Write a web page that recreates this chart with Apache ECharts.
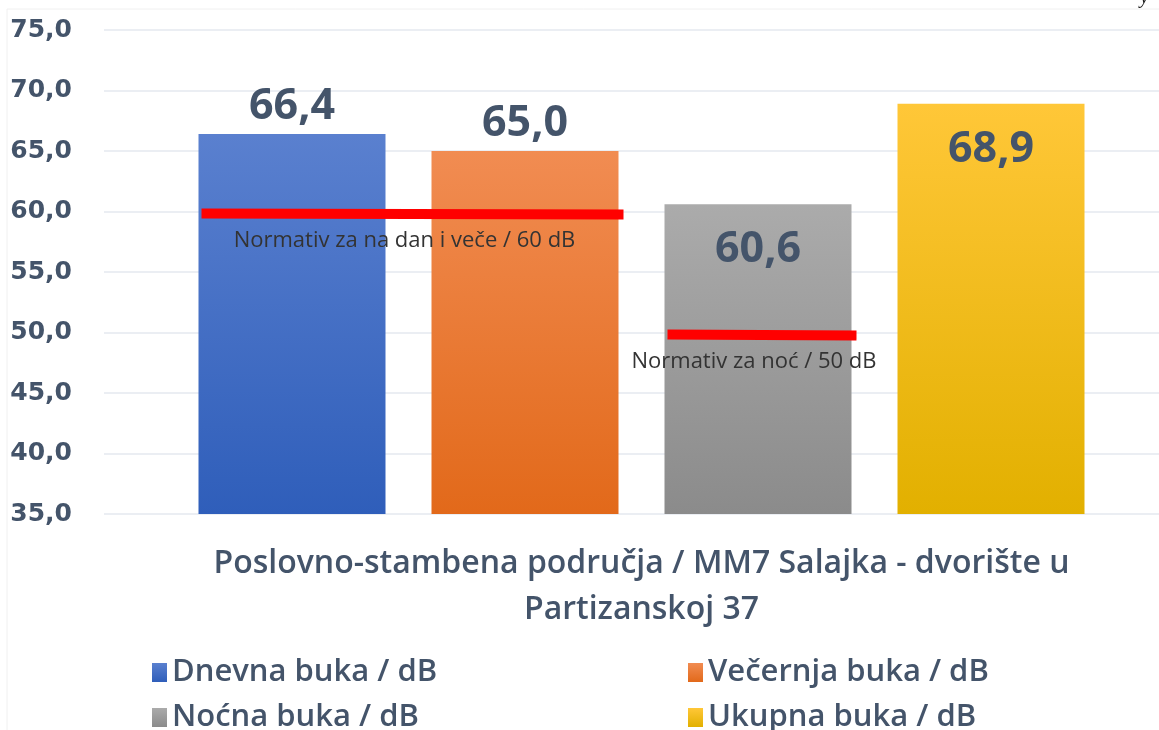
<!DOCTYPE html>
<html>
<head>
<meta charset="utf-8">
<script src="https://cdn.jsdelivr.net/npm/echarts@6/dist/echarts.min.js"></script>
<style>
  html, body { margin: 0; padding: 0; background: #fff; }
  #chart { width: 1159px; height: 730px; }
</style>
</head>
<body>
<div id="chart"></div>
<script>
var categories = ['Poslovno-stambena područja / MM7 Salajka - dvorište u\nPartizanskoj 37']
var seriesNames = ['Dnevna buka / dB', 'Večernja buka / dB', 'Noćna buka / dB', 'Ukupna buka / dB']
var dnevna = [66.4]
var vecernja = [65.0]
var nocna = [60.6]
var ukupna = [68.9]
// limit value, first bar index, last bar index, label
var limits = [
  [60, 0, 1, 'Normativ za na dan i veče / 60 dB'],
  [50, 2, 2, 'Normativ za noć / 50 dB']
]
var yTicks = { min: 35, max: 75, interval: 5 }

var BAR_W = 187
var BAR_GAP = 46
var textColor = '#44546A'

function fmt(v) {
  return Number(v).toFixed(1).replace('.', ',')
}

function grad(top, bottom) {
  return new echarts.graphic.LinearGradient(0, 0, 0, 1, [
    { offset: 0, color: top },
    { offset: 1, color: bottom }
  ])
}

var chart = echarts.init(document.getElementById('chart'))

function barSeries(name, data, top, bottom, inside) {
  return {
    name: name,
    type: 'bar',
    xAxisIndex: 1,
    yAxisIndex: 1,
    barWidth: BAR_W,
    barGap: (BAR_GAP / BAR_W * 100).toFixed(2) + '%',
    data: data,
    itemStyle: { color: grad(top, bottom) },
    label: {
      show: true,
      position: inside ? 'insideTop' : 'top',
      distance: inside ? 24 : 6,
      formatter: function (p) { return fmt(p.value) },
      fontFamily: 'Open Sans',
      fontWeight: 'bold',
      fontSize: 43,
      color: textColor
    }
  }
}

function legendAt(name, left, top) {
  return {
    data: [name],
    left: left,
    top: top,
    icon: 'rect',
    itemWidth: 15,
    itemHeight: 19,
    selectedMode: false,
    textStyle: {
      fontFamily: 'Open Sans',
      fontWeight: 600,
      fontSize: 31,
      color: textColor
    }
  }
}

var option = {
  backgroundColor: '#fff',
  animation: false,
  graphic: [
    {
      type: 'rect',
      shape: { x: 7, y: 9, width: 1160, height: 730 },
      style: { fill: 'none', stroke: '#f0f0f0', lineWidth: 1 }
    },
    {
      type: 'text',
      left: 1140,
      top: -12,
      style: { text: 'y', font: 'italic 20px "Liberation Serif"', fill: '#222' }
    }
  ],
  legend: [
    legendAt(seriesNames[0], 147, 652),
    legendAt(seriesNames[1], 683, 652),
    legendAt(seriesNames[2], 147, 697),
    legendAt(seriesNames[3], 683, 697)
  ],
  grid: [
    { left: 104, right: 0, top: 30, bottom: 216 },
    { left: 124, right: 0, top: 30, bottom: 216 }
  ],
  xAxis: [
    {
      type: 'category',
      gridIndex: 0,
      data: categories,
      show: false
    },
    {
      type: 'category',
      gridIndex: 1,
      data: categories,
      axisLine: { show: false },
      axisTick: { show: false },
      axisLabel: {
        margin: 27,
        fontFamily: 'Open Sans',
        fontWeight: 600,
        fontSize: 32,
        lineHeight: 46,
        color: textColor
      }
    }
  ],
  yAxis: [
    {
      type: 'value',
      gridIndex: 0,
      min: yTicks.min,
      max: yTicks.max,
      interval: yTicks.interval,
      axisLine: { show: false },
      axisTick: { show: false },
      splitLine: { lineStyle: { color: '#E4E8EF', width: 1.5 } },
      axisLabel: {
        margin: 32,
        formatter: fmt,
        fontFamily: 'DejaVu Sans',
        fontWeight: 'bold',
        fontSize: 25,
        color: textColor
      }
    },
    {
      type: 'value',
      gridIndex: 1,
      min: yTicks.min,
      max: yTicks.max,
      interval: yTicks.interval,
      show: false,
      splitLine: { show: false }
    }
  ],
  series: [
    barSeries(seriesNames[0], dnevna, '#5A80CF', '#2F5EBA', false),
    barSeries(seriesNames[1], vecernja, '#F18C52', '#E2691A', false),
    barSeries(seriesNames[2], nocna, '#ABABAB', '#8B8B8B', true),
    barSeries(seriesNames[3], ukupna, '#FFC738', '#E2B000', true),
    {
      type: 'custom',
      name: 'limits',
      xAxisIndex: 1,
      yAxisIndex: 1,
      data: limits.map(function (l) { return [0, l[0], l[1], l[2]] }),
      z: 10,
      renderItem: function (params, api) {
        var c = api.coord([0, api.value(1)])
        var total = 4 * BAR_W + 3 * BAR_GAP
        var start = c[0] - total / 2
        var x1 = start + api.value(2) * (BAR_W + BAR_GAP) + 3
        var x2 = start + api.value(3) * (BAR_W + BAR_GAP) + BAR_W + 5
        var label = limits[params.dataIndex][3]
        return {
          type: 'group',
          children: [
            {
              type: 'line',
              shape: { x1: x1, y1: c[1] + 2, x2: x2, y2: c[1] + 3 },
              style: { stroke: '#FF0000', lineWidth: 10 }
            },
            {
              type: 'text',
              x: (x1 + x2) / 2 - 8,
              y: c[1] + 29,
              style: {
                text: label,
                fontFamily: 'Open Sans',
                fontSize: 22,
                fill: '#333',
                align: 'center',
                verticalAlign: 'middle'
              }
            }
          ]
        }
      }
    }
  ]
}

chart.setOption(option)
</script>
</body>
</html>
